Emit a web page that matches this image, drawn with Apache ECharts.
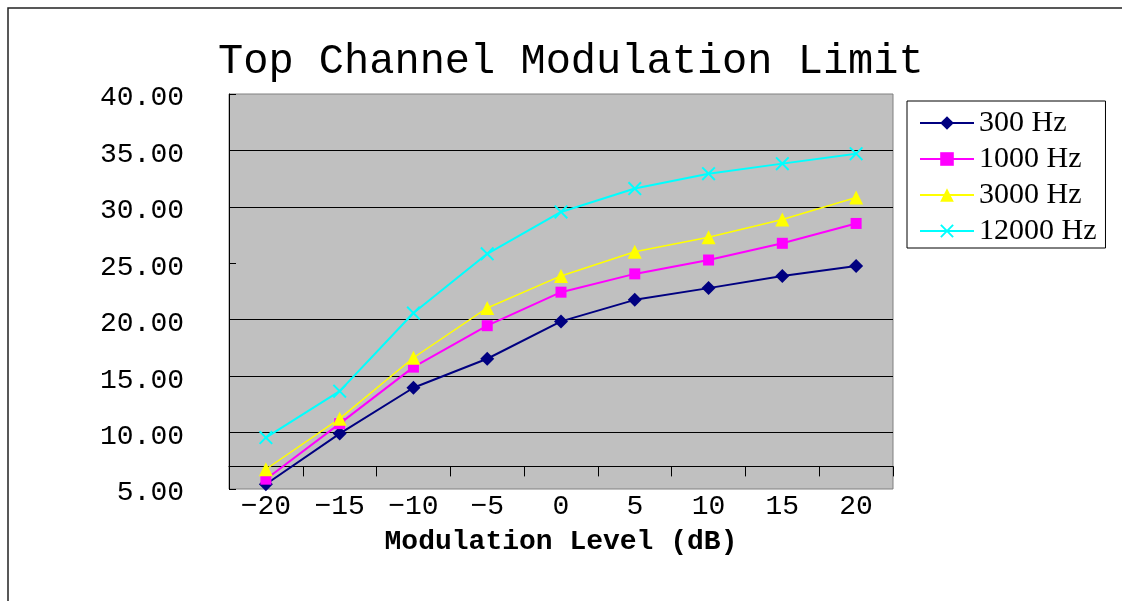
<!DOCTYPE html>
<html>
<head>
<meta charset="utf-8">
<script src="https://cdn.jsdelivr.net/npm/echarts@6/dist/echarts.min.js"></script>
<style>
html,body{margin:0;padding:0;background:#fff;}
#chart{width:1122px;height:601px;}
</style>
</head>
<body>
<div id="chart"></div>
<script>
const categories = ['\u221220','\u221215','\u221210','\u22125','0','5','10','15','20'];
const s300   = [5.42, 9.91, 13.97, 16.54, 19.85, 21.76, 22.80, 23.88, 24.76];
const s1000  = [5.87, 10.79, 15.80, 19.47, 22.44, 24.06, 25.29, 26.77, 28.53];
const s3000  = [6.75, 11.23, 16.63, 21.04, 23.88, 26.02, 27.30, 28.88, 30.83];
const s12000 = [9.56, 13.67, 20.59, 25.84, 29.55, 31.62, 32.94, 33.83, 34.71];
const seriesNames = ['300 Hz','1000 Hz','3000 Hz','12000 Hz'];
const yTicks = {min: 5, max: 40, interval: 5};
const gridValues = [10, 15, 20, 30, 35];

const xPath = 'path://M0,1L1,0L5,4L9,0L10,1L6,5L10,9L9,10L5,6L1,10L0,9L4,5Z';

const chart = echarts.init(document.getElementById('chart'));
chart.setOption({
  animation: false,
  backgroundColor: '#fff',
  title: {
    text: 'Top Channel Modulation Limit',
    left: 213, top: 36,
    textStyle: {fontFamily: 'Liberation Mono', fontSize: 42, fontWeight: 'normal', color: '#000'}
  },
  graphic: [{
    type: 'polyline',
    shape: {points: [[8, 601], [8, 8], [1122, 8]]},
    style: {stroke: '#222', lineWidth: 1.5, fill: null},
    silent: true
  }],
  legend: {
    orient: 'vertical',
    left: 907, top: 101,
    padding: [7, 9, 2, 12],
    itemWidth: 54, itemHeight: 17, itemGap: 6,
    backgroundColor: '#fff',
    borderColor: '#000', borderWidth: 1,
    textStyle: {fontFamily: 'Liberation Serif', fontSize: 30, lineHeight: 30, color: '#000'},
    data: seriesNames
  },
  grid: {
    left: 229, right: 229, top: 94, bottom: 112,
    show: true, backgroundColor: '#C0C0C0', borderColor: '#808080', borderWidth: 1
  },
  xAxis: {
    type: 'category',
    data: categories,
    boundaryGap: true,
    offset: -22.6,
    axisLine: {show: true, onZero: false, lineStyle: {color: '#000', width: 1}},
    axisTick: {show: true, length: 10, lineStyle: {color: '#000'}},
    axisLabel: {margin: 26, fontFamily: 'Liberation Mono', fontSize: 28, color: '#000'},
    splitLine: {show: false},
    name: 'Modulation Level (dB)',
    nameLocation: 'middle',
    nameGap: 62,
    nameTextStyle: {fontFamily: 'Liberation Mono', fontSize: 28, fontWeight: 'bold', color: '#000'}
  },
  yAxis: {
    type: 'value',
    min: yTicks.min, max: yTicks.max, interval: yTicks.interval,
    axisLine: {show: true, lineStyle: {color: '#000', width: 1}},
    axisTick: {show: true, inside: true, length: 7, lineStyle: {color: '#000'}},
    axisLabel: {
      margin: 45, fontFamily: 'Liberation Mono', fontSize: 28, color: '#000',
      formatter: v => '{a|' + v.toFixed(2) + '}',
      rich: {a: {fontFamily: 'Liberation Mono', fontSize: 28, color: '#000', padding: [8, 0, 0, 0]}}
    },
    splitLine: {show: false}
  },
  series: [
    {name: 'grid', type: 'line', data: [], z: 1, silent: true,
     markLine: {silent: true, symbol: 'none', z: 1, label: {show: false},
       lineStyle: {color: '#000', width: 1, type: 'solid'},
       emphasis: {disabled: true},
       data: gridValues.map(v => ({yAxis: v}))}},
    {name: seriesNames[0], type: 'line', data: s300, symbol: 'diamond', symbolSize: 14,
     itemStyle: {color: '#000080'}, lineStyle: {color: '#000080', width: 2}},
    {name: seriesNames[1], type: 'line', data: s1000, symbol: 'rect', symbolSize: 11,
     itemStyle: {color: '#FF00FF'}, lineStyle: {color: '#FF00FF', width: 2}},
    {name: seriesNames[2], type: 'line', data: s3000, symbol: 'triangle', symbolSize: 14,
     itemStyle: {color: '#FFFF00'}, lineStyle: {color: '#FFFF00', width: 1.5}},
    {name: seriesNames[3], type: 'line', data: s12000, symbol: xPath, symbolSize: 14,
     itemStyle: {color: '#00FFFF'}, lineStyle: {color: '#00FFFF', width: 2}}
  ]
});
</script>
</body>
</html>
